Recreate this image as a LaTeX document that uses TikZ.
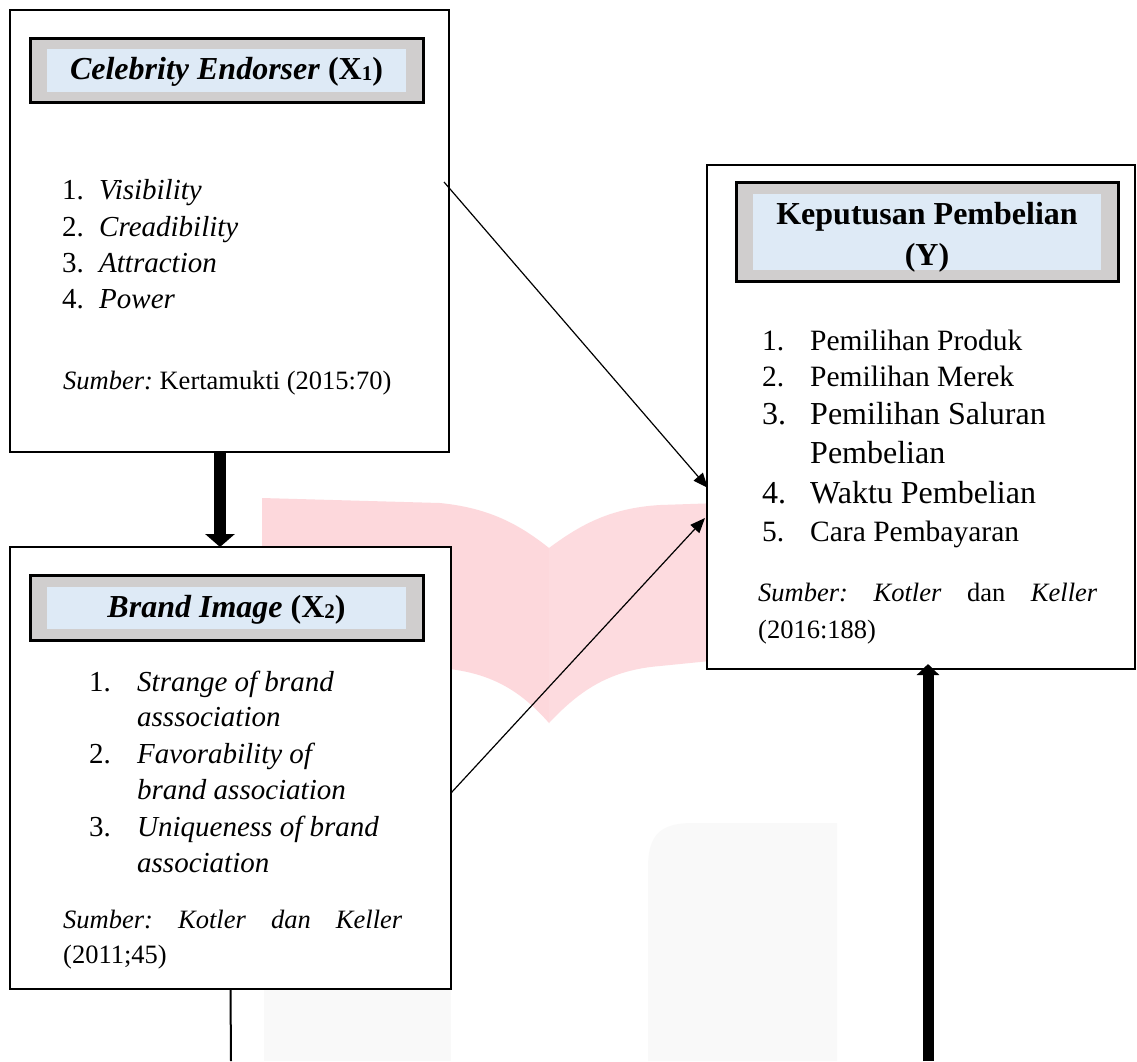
\documentclass[tikz,border=0pt]{standalone}
\usepackage{fontspec}
\setmainfont{Liberation Serif}
\usetikzlibrary{arrows.meta,calc}
\definecolor{framegray}{HTML}{D0CECE}
\definecolor{titleblue}{HTML}{DEEAF6}
\definecolor{wmpink}{HTML}{FDD8DC}
\definecolor{wmgray}{HTML}{F9F9F9}
\frenchspacing
\begin{document}
\begin{tikzpicture}[x=1pt,y=-1pt,
  outerbox/.style={draw=black,line width=2.5pt,fill=white,inner sep=0pt,outer sep=0pt},
  titleframe/.style={draw=black,line width=3pt,fill=framegray,inner sep=0pt,outer sep=0pt},
  titlefill/.style={fill=titleblue,inner sep=0pt,outer sep=0pt},
  titletext/.style={font=\fontsize{32}{40}\selectfont\bfseries,anchor=base,inner sep=0pt},
  itemnum/.style={font=\fontsize{29}{36}\selectfont,anchor=base west,inner sep=0pt},
  itemtxt/.style={font=\fontsize{29}{36}\selectfont\itshape,anchor=base west,inner sep=0pt},
  itemrom/.style={font=\fontsize{29.5}{36}\selectfont,anchor=base west,inner sep=0pt},
  itembig/.style={font=\fontsize{32}{39}\selectfont,anchor=base west,inner sep=0pt},
  srctext/.style={font=\fontsize{26.5}{33}\selectfont,anchor=base west,inner sep=0pt},
  thinarrow/.style={line width=1.2pt,-{Triangle[length=15pt,width=12pt]}},
  bigarrow/.style={line width=12pt,-{Triangle[length=13pt,width=29pt]}},
  uparrow/.style={line width=11pt,-{Triangle[length=11pt,width=22pt]}}
]
\useasboundingbox (0,0) rectangle (1137,1061);
\fill[white] (0,0) rectangle (1137,1061);

% watermark
\fill[wmpink] (262,498) -- (440,503) .. controls (490,508) and (520,525) .. (549,548)
  -- (549,723) .. controls (520,690) and (490,672) .. (440,668) -- (262,664) -- cycle;
\fill[wmpink!92!white] (549,548) .. controls (580,525) and (610,508) .. (660,505) -- (720,503)
  -- (720,660) -- (660,666) .. controls (610,670) and (580,690) .. (549,723) -- cycle;
\fill[wmgray] (264,900) rectangle (451,1061);
\fill[wmgray] (648,1061) -- (648,868) .. controls (648,835) and (660,823) .. (693,823)
  -- (837,823) -- (837,1061) -- cycle;

% Box X1
\node[outerbox,minimum width=439pt,minimum height=442pt] (box1) at (229.5,231) {};
\node[titleframe,minimum width=393pt,minimum height=64pt] (frame1) at (226.5,70) {};
\node[titlefill,minimum width=359pt,minimum height=43pt] (fill1) at (226.5,70.5) {};
\node[titletext] (title1) at (226.5,79) {\textit{Celebrity Endorser} (X\raisebox{-1pt}{\fontsize{21}{21}\selectfont 1})};
\node[itemnum] (x1n1) at (62,199) {1.};
\node[itemtxt] (x1t1) at (99,199) {Visibility};
\node[itemnum] (x1n2) at (62,236) {2.};
\node[itemtxt] (x1t2) at (99,236) {Creadibility};
\node[itemnum] (x1n3) at (62,272) {3.};
\node[itemtxt] (x1t3) at (99,272) {Attraction};
\node[itemnum] (x1n4) at (62,308) {4.};
\node[itemtxt] (x1t4) at (99,308) {Power};
\node[srctext] (x1src) at (63,389) {\textit{Sumber:} Kertamukti (2015:70)};

% Box X2
\node[outerbox,minimum width=441pt,minimum height=442pt] (box2) at (230.5,768) {};
\node[titleframe,minimum width=393pt,minimum height=65pt] (frame2) at (226.5,607.5) {};
\node[titlefill,minimum width=359pt,minimum height=42pt] (fill2) at (226.5,608) {};
\node[titletext] (title2) at (226.5,617) {\textit{Brand Image} (X\raisebox{-1pt}{\fontsize{21}{21}\selectfont 2})};
\node[itemnum] (x2n1) at (89,691) {1.};
\node[itemtxt] (x2t1) at (137,691) {Strange of brand};
\node[itemtxt] (x2t1b) at (137,726) {asssociation};
\node[itemnum] (x2n2) at (89,763) {2.};
\node[itemtxt] (x2t2) at (137,763) {Favorability of};
\node[itemtxt] (x2t2b) at (137,799) {brand association};
\node[itemnum] (x2n3) at (89,836) {3.};
\node[itemtxt] (x2t3) at (137,836) {Uniqueness of brand};
\node[itemtxt] (x2t3b) at (137,872) {association};
\node[srctext] (x2src) at (63,928) {\makebox[339pt][s]{\itshape Sumber: Kotler dan Keller}};
\node[srctext] (x2src2) at (63,963) {(2011;45)};

% Box Y
\node[outerbox,minimum width=428pt,minimum height=504pt] (boxY) at (921,417) {};
\node[titleframe,minimum width=382pt,minimum height=99pt] (frameY) at (927,231.5) {};
\node[titlefill,minimum width=348pt,minimum height=76pt] (fillY) at (927,232) {};
\node[titletext] (titleY) at (927,224.5) {Keputusan Pembelian};
\node[titletext] (titleY2) at (927,265) {(Y)};
\node[itemrom] (yn1) at (762,350) {1.};
\node[itemrom] (yt1) at (810,350) {Pemilihan Produk};
\node[itemrom] (yn2) at (762,386) {2.};
\node[itemrom] (yt2) at (810,386) {Pemilihan Merek};
\node[itembig] (yn3) at (762,424.5) {3.};
\node[itembig] (yt3) at (810,424.5) {Pemilihan Saluran};
\node[itembig] (yt3b) at (810,463.5) {Pembelian};
\node[itembig] (yn4) at (762,503) {4.};
\node[itembig] (yt4) at (810,503) {Waktu Pembelian};
\node[itemrom] (yn5) at (762,541) {5.};
\node[itemrom] (yt5) at (810,541) {Cara Pembayaran};
\node[srctext] (ysrc) at (758,601) {\makebox[339pt][s]{\itshape Sumber: Kotler \upshape dan \itshape Keller}};
\node[srctext] (ysrc2) at (758,638) {(2016:188)};

% connectors
\coordinate (ybot) at (928,1061);
\coordinate (xbot) at (231,1061);
\draw[bigarrow] ([xshift=-9.5pt]box1.south) -- ([xshift=-10.5pt]box2.north);
\draw[thinarrow] ([xshift=-5pt,yshift=-172pt]box1.north east) -- ([xshift=1pt,yshift=-71pt]boxY.west);
\draw[thinarrow] ([yshift=-25pt]box2.east) -- ([xshift=-2pt,yshift=-101pt]boxY.west);
\draw[line width=2pt] (box2.south) -- (xbot);
\draw[uparrow] (ybot) -- ([xshift=7pt,yshift=5pt]boxY.south);
\end{tikzpicture}
\end{document}
